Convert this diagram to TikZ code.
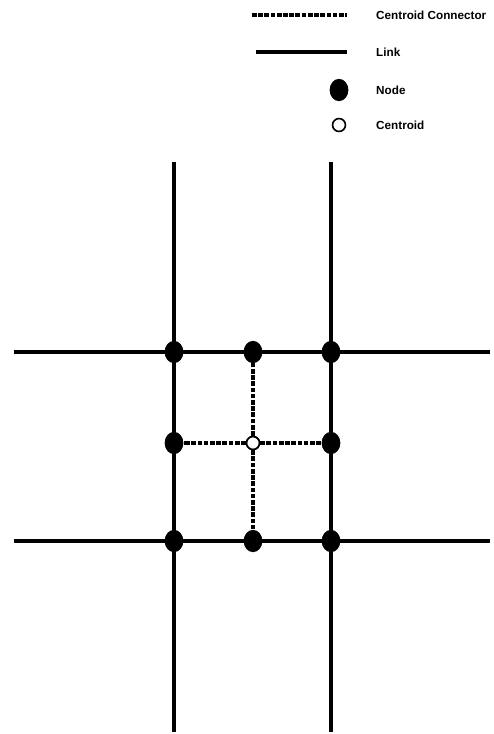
\documentclass[tikz,border=0pt]{standalone}
\usepackage{fontspec}
\setmainfont{Liberation Sans}
\usetikzlibrary{shapes.geometric}

\begin{document}
\begin{tikzpicture}[
    x=0.03cm, y=-0.03cm,
    % Line and dot styles
    link/.style={line width=3pt, black},
    connector/.style={line width=3.2pt, black, dash pattern=on 4pt off 1.3pt},
    netnode/.style={ellipse, fill=black, inner sep=0pt, minimum width=16pt, minimum height=19pt},
    centroid/.style={circle, draw=black, line width=1.4pt, fill=white, inner sep=0pt, minimum size=11pt},
    legendtext/.style={anchor=west, font=\fontsize{10}{12}\selectfont\bfseries, inner sep=0pt}
]
\useasboundingbox (0,0) rectangle (493,734);

% 1. Free ends of the links
\coordinate (v1top) at (174,162);
\coordinate (v1bot) at (174,732);
\coordinate (v2top) at (331,162);
\coordinate (v2bot) at (331,732);
\coordinate (h1left) at (14,352);
\coordinate (h1right) at (490,352);
\coordinate (h2left) at (14,541);
\coordinate (h2right) at (490,541);

% 2. Links
\draw[link] (v1top) -- (v1bot);
\draw[link] (v2top) -- (v2bot);
\draw[link] (h1left) -- (h1right);
\draw[link] (h2left) -- (h2right);

% 3. Nodes
\node[netnode] (ntl) at (174,352) {};
\node[netnode] (ntm) at (253,352) {};
\node[netnode] (ntr) at (331,352) {};
\node[netnode] (nml) at (174,443) {};
\node[netnode] (nmr) at (331,443) {};
\node[netnode] (nbl) at (174,541) {};
\node[netnode] (nbm) at (253,541) {};
\node[netnode] (nbr) at (331,541) {};

% 4. Centroid and its connectors
\node[centroid] (cen) at (253,443) {};
\draw[connector] (cen) -- (ntm);
\draw[connector] (cen) -- (nbm);
\draw[connector] (cen) -- (nml);
\draw[connector] (cen) -- (nmr);
\node[centroid] at (cen) {};

% 5. Legend
\coordinate (lgcona) at (252,15);
\coordinate (lgconb) at (347,15);
\coordinate (lglinka) at (256,52);
\coordinate (lglinkb) at (347,52);
\draw[connector] (lgcona) -- (lgconb);
\draw[link] (lglinka) -- (lglinkb);
\node[netnode] (lgnode) at (339,90) {};
\node[centroid] (lgcen) at (339,125) {};
\node[legendtext] at (376,15) {Centroid Connector};
\node[legendtext] at (376,52) {Link};
\node[legendtext] at (376,90) {Node};
\node[legendtext] at (376,125) {Centroid};

\end{tikzpicture}
\end{document}
